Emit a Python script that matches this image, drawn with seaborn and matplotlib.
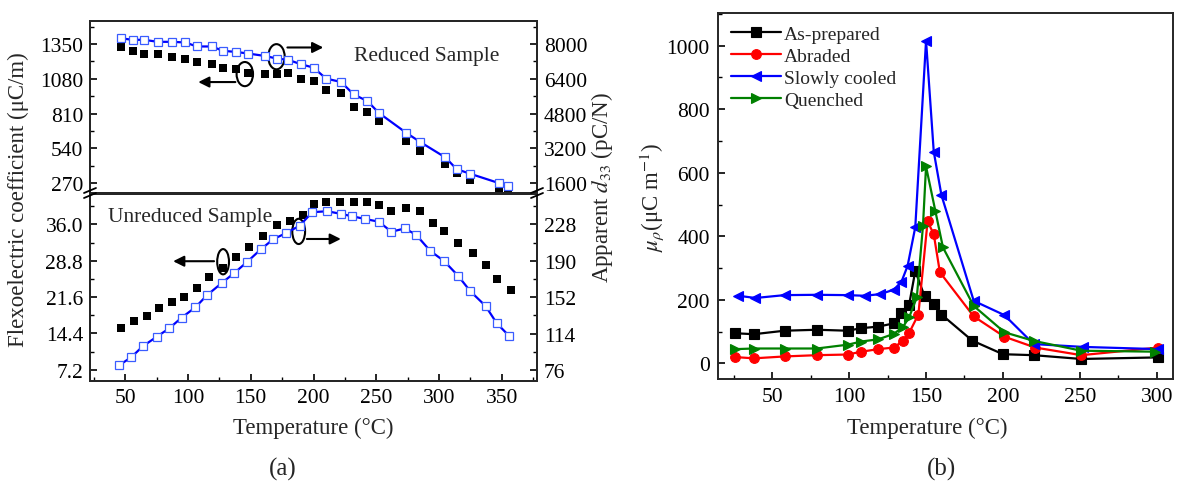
import matplotlib
matplotlib.use("Agg")
import numpy as np
import pandas as pd
import seaborn as sns
import matplotlib.pyplot as plt
from matplotlib.patches import Ellipse
from matplotlib.lines import Line2D
from matplotlib.ticker import MultipleLocator, FixedLocator, FormatStrFormatter

# ---------------- data: panel (a), reduced sample ----------------
T_red = [47, 56, 65, 76, 87, 98, 107, 119, 128, 138, 148, 161, 171, 180, 190, 200,
         210, 222, 232, 243, 252, 274, 285, 305, 314, 325, 348, 355]
flexo_red = [1324, 1298, 1272, 1272, 1251, 1238, 1212, 1199, 1162, 1154, 1128, 1115,
             1115, 1123, 1082, 1063, 992, 967, 862, 823, 755, 599, 515, 416, 346, 294,
             223, 202]
d33_red = [8266, 8200, 8200, 8107, 8107, 8077, 7893, 7893, 7690, 7644, 7567, 7458,
           7335, 7274, 7073, 6919, 6412, 6255, 5682, 5373, 4832, 3906, 3489, 2778,
           2237, 2021, 1589, 1481]

# ---------------- data: panel (a), unreduced sample ----------------
T_unred_f = [47, 57, 67, 77, 87, 97, 107, 117, 128, 138, 149, 160, 171, 181, 192, 200,
             210, 221, 232, 243, 252, 262, 274, 285, 295, 304, 315, 327, 337, 346, 357]
flexo_unred = [15.4, 16.9, 17.9, 19.5, 20.7, 21.7, 23.5, 25.5, 27.4, 29.6, 31.5, 33.7,
               35.9, 36.7, 37.9, 40.1, 40.5, 40.4, 40.5, 40.4, 39.9, 38.7, 39.3, 38.6,
               36.3, 34.6, 32.4, 30.4, 27.9, 25.1, 23.0]
T_unred_d = [45, 55, 64, 75, 85, 95, 106, 115, 127, 137, 147, 158, 168, 178, 189, 199,
             211, 222, 231, 241, 252, 262, 273, 282, 293, 304, 315, 325, 337, 346, 356]
d33_unred = [80.6, 89.4, 100.6, 110.5, 119.3, 130.6, 141.4, 153.8, 166.8, 177.3, 188.6,
             201.9, 212.5, 218.8, 226.6, 240.7, 241.7, 238.9, 236.4, 233.6, 230.8,
             220.3, 223.8, 216.7, 200.2, 189.7, 174.5, 158.0, 142.8, 124.6, 111.2]

# ---------------- data: panel (b) ----------------
series_names = ["As-prepared", "Abraded", "Slowly cooled", "Quenched"]
T_asprep = [26, 38, 58, 79, 99, 108, 119, 129, 134, 139, 143, 149, 155, 160, 180, 200, 220, 251, 301]
mu_asprep = [95, 92, 103, 106, 103, 111, 116, 126, 160, 185, 291, 212, 188, 154, 72, 29, 26, 14, 19]
T_abraded = [26, 38, 58, 79, 99, 108, 119, 129, 135, 139, 145, 151, 155, 159, 181, 201, 221, 251, 301]
mu_abraded = [20, 16, 22, 26, 28, 37, 45, 50, 71, 96, 154, 447, 407, 287, 148, 84, 50, 26, 50]
T_slow = [28, 39, 58, 79, 99, 110, 120, 129, 134, 138, 143, 150, 155, 160, 181, 201, 220, 252, 301]
mu_slow = [213, 206, 215, 216, 215, 213, 218, 232, 257, 307, 429, 1016, 667, 530, 197, 152, 61, 52, 45]
T_quench = [26, 38, 58, 79, 99, 108, 119, 129, 135, 139, 144, 148, 150, 156, 161, 181, 201, 220, 251, 299]
mu_quench = [45, 47, 47, 47, 59, 69, 76, 93, 115, 145, 208, 433, 620, 481, 365, 181, 98, 71, 40, 37]

# ---------------- style ----------------
sns.set_style("ticks")
plt.rcParams["font.family"] = ["Liberation Serif", "DejaVu Serif"]
plt.rcParams["mathtext.fontset"] = "stix"
plt.rcParams["axes.linewidth"] = 1.4
plt.rcParams["xtick.direction"] = "in"
plt.rcParams["ytick.direction"] = "in"
plt.rcParams["xtick.color"] = "black"
plt.rcParams["ytick.color"] = "black"

TICK_FS = 15.5
LAB_FS = 16.5

W, H = 1180, 489
fig = plt.figure(figsize=(W / 100, H / 100), dpi=100)
fig.patch.set_facecolor("white")


def rect(x0, y0, x1, y1):
    return [x0 / W, 1 - y1 / H, (x1 - x0) / W, (y1 - y0) / H]


ax_t = fig.add_axes(rect(90, 22, 537, 194))
ax_b = fig.add_axes(rect(90, 195, 537, 382))
ax_t2 = ax_t.twinx()
ax_b2 = ax_b.twinx()
ax_r = fig.add_axes(rect(718, 14, 1173, 380))

BLUE = "#0000ff"
BLUE_EDGE = "#3a5cff"

# ----- panel (a) top -----
sns.scatterplot(x=T_red, y=flexo_red, marker="s", color="black", s=38,
                edgecolor="black", linewidth=0, ax=ax_t)
sns.lineplot(x=T_red, y=d33_red, color=BLUE, lw=1.6, marker="s", markersize=5.5,
             markerfacecolor="white", markeredgecolor=BLUE_EDGE, markeredgewidth=0.9,
             ax=ax_t2)

# ----- panel (a) bottom -----
sns.scatterplot(x=T_unred_f, y=flexo_unred, marker="s", color="black", s=38,
                edgecolor="black", linewidth=0, ax=ax_b)
sns.lineplot(x=T_unred_d, y=d33_unred, color=BLUE, lw=1.6, marker="s", markersize=5.5,
             markerfacecolor="white", markeredgecolor=BLUE_EDGE, markeredgewidth=0.9,
             ax=ax_b2)

XLIM = (22, 378)
for a in (ax_t, ax_b):
    a.set_xlim(*XLIM)
    a.set_xlabel("")
    a.set_ylabel("")
for a in (ax_t2, ax_b2):
    a.set_ylabel("")

ax_t.set_ylim(192, 1530)
ax_t.yaxis.set_major_locator(FixedLocator([270, 540, 810, 1080, 1350]))
ax_t.yaxis.set_minor_locator(MultipleLocator(135))
ax_t2.set_ylim(1138, 9067)
ax_t2.yaxis.set_major_locator(FixedLocator([1600, 3200, 4800, 6400, 8000]))
ax_t2.yaxis.set_minor_locator(MultipleLocator(800))

ax_b.set_ylim(5.0, 42.0)
ax_b.yaxis.set_major_locator(FixedLocator([7.2, 14.4, 21.6, 28.8, 36.0]))
ax_b.yaxis.set_major_formatter(FormatStrFormatter("%.1f"))
ax_b.yaxis.set_minor_locator(MultipleLocator(3.6))
ax_b2.set_ylim(64.4, 259.7)
ax_b2.yaxis.set_major_locator(FixedLocator([76, 114, 152, 190, 228]))
ax_b2.yaxis.set_minor_locator(MultipleLocator(19))

ax_b.xaxis.set_major_locator(MultipleLocator(50))
ax_b.xaxis.set_minor_locator(MultipleLocator(25))

for a in (ax_t, ax_t2):
    a.tick_params(axis="x", which="both", bottom=False, top=False,
                  labelbottom=False, labeltop=False)
ax_b2.tick_params(axis="x", which="both", bottom=False, top=False,
                  labelbottom=False)
ax_b.tick_params(axis="x", which="both", top=False)

for a in (ax_t, ax_b, ax_t2, ax_b2):
    a.tick_params(which="major", length=5, width=1.2, labelsize=TICK_FS, pad=5)
    a.tick_params(which="minor", length=3, width=1.0)
    for s in a.spines.values():
        s.set_linewidth(1.4)
        s.set_visible(True)

# annotations, top
ax_t.add_patch(Ellipse((170.5, 1252), 13.1, 196, fill=False, lw=1.5, ec="black"))
ax_t.annotate("", xy=(210, 1324), xytext=(177, 1324),
              arrowprops=dict(arrowstyle="-|>", color="black", lw=1.5, mutation_scale=16))
ax_t.add_patch(Ellipse((145.3, 1117), 13.1, 188, fill=False, lw=1.5, ec="black"))
ax_t.annotate("", xy=(106, 1055), xytext=(140, 1055),
              arrowprops=dict(arrowstyle="-|>", color="black", lw=1.5, mutation_scale=16))
ax_t.text(290, 1264, "Reduced Sample", ha="center", va="center", fontsize=TICK_FS)

# annotations, bottom
ax_b.add_patch(Ellipse((128, 28.6), 9.4, 5.0, fill=False, lw=1.5, ec="black"))
ax_b.annotate("", xy=(86, 28.7), xytext=(123, 28.7),
              arrowprops=dict(arrowstyle="-|>", color="black", lw=1.5, mutation_scale=16))
ax_b.add_patch(Ellipse((188.2, 34.6), 10.2, 5.0, fill=False, lw=1.5, ec="black"))
ax_b.annotate("", xy=(224, 33.1), xytext=(192.5, 33.1),
              arrowprops=dict(arrowstyle="-|>", color="black", lw=1.5, mutation_scale=16))
ax_b.text(102, 37.6, "Unreduced Sample", ha="center", va="center", fontsize=TICK_FS)

# axis break marks
for xc in (90, 537):
    for yc in (191.5, 196.5):
        fig.add_artist(Line2D([(xc - 6) / W, (xc + 6) / W],
                              [1 - (yc + 2.5) / H, 1 - (yc - 2.5) / H],
                              transform=fig.transFigure, color="black", lw=1.3))

fig.text(18.5 / W, 1 - 200 / H, "Flexoelectric coefficient (μC/m)", rotation=90,
         ha="center", va="center", fontsize=LAB_FS)
fig.text(602 / W, 1 - 188 / H, "Apparent $d_{33}$ (pC/N)", rotation=90,
         ha="center", va="center", fontsize=LAB_FS)
fig.text(313.5 / W, 1 - 428 / H, "Temperature (°C)", ha="center", va="center",
         fontsize=LAB_FS)
fig.text(283 / W, 1 - 469 / H, "(a)", ha="center", va="center", fontsize=18)

# ----- panel (b) -----
specs = [
    (T_asprep, mu_asprep, "black", "s"),
    (T_abraded, mu_abraded, "red", "o"),
    (T_slow, mu_slow, "blue", "<"),
    (T_quench, mu_quench, "green", ">"),
]
for name, (tx, mv, c, m) in zip(series_names, specs):
    sns.lineplot(x=tx, y=mv, color=c, lw=1.6, marker=m, markersize=7,
                 markeredgecolor=c, markerfacecolor=c, markeredgewidth=0.8,
                 label=name, ax=ax_r)

ax_r.set_xlim(14.7, 310.6)
ax_r.set_ylim(-49, 1103)
ax_r.xaxis.set_major_locator(MultipleLocator(50))
ax_r.xaxis.set_minor_locator(MultipleLocator(25))
ax_r.yaxis.set_major_locator(MultipleLocator(200))
ax_r.yaxis.set_minor_locator(MultipleLocator(100))
ax_r.tick_params(which="major", length=5, width=1.2, labelsize=TICK_FS, pad=6)
ax_r.tick_params(which="minor", length=3, width=1.0)
for s in ax_r.spines.values():
    s.set_linewidth(1.4)
ax_r.set_xlabel("")
ax_r.set_ylabel("")
leg = ax_r.legend(loc="upper left", frameon=False, fontsize=14, handlelength=2.6,
                  handletextpad=0.15, labelspacing=0.22, borderaxespad=0.45,
                  borderpad=0.2)

fig.text(652 / W, 1 - 197 / H, r"$\mu_{\rho}$(μC m$^{-1}$)", rotation=90,
         ha="center", va="center", fontsize=LAB_FS)
fig.text(927 / W, 1 - 428 / H, "Temperature (°C)", ha="center", va="center",
         fontsize=LAB_FS)
fig.text(942 / W, 1 - 469 / H, "(b)", ha="center", va="center", fontsize=18)

fig.savefig("out.png", dpi=100, facecolor="white")
